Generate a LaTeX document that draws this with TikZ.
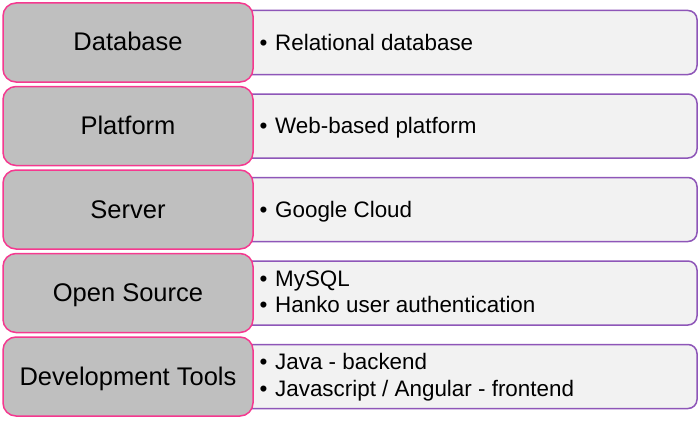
\documentclass[tikz,border=0pt]{standalone}
\usepackage{fontspec}
\setmainfont{Liberation Sans}
\definecolor{lfill}{HTML}{BFBFBF}
\definecolor{lline}{HTML}{F5388F}
\definecolor{rfill}{HTML}{F2F2F2}
\definecolor{rline}{HTML}{8E56B8}
\tikzset{
  catbox/.style={draw=lline, fill=lfill, line width=1.5pt, rounded corners=13pt,
    minimum width=250pt, minimum height=79pt, inner sep=0pt,
    font=\fontsize{25.5}{30}\selectfont, text height=22pt, text depth=5pt},
  infobox/.style={draw=rline, fill=rfill, line width=1.5pt, rounded corners=9pt,
    minimum width=457pt, minimum height=64pt, inner sep=0pt},
  itemtext/.style={anchor=base west, inner sep=0pt, font=\fontsize{22.4}{26}\selectfont}
}
\newcommand{\bul}[1]{\makebox[15.5pt][l]{•}#1}
\begin{document}
\begin{tikzpicture}[x=1pt,y=-1pt]
\useasboundingbox (0,0) rectangle (700,420);
% row centers: 42.5 + 83.5 i
\foreach \i/\lab in {0/Database,1/Platform,2/Server,3/Open Source,4/Development Tools}{
  \pgfmathsetmacro{\cy}{42.5+83.5*\i}
  \node[infobox] (info\i) at (468.5,\cy) {};
  \node[catbox] (cat\i) at (128,\cy) {\lab};
}
\node[itemtext] (t0) at (259.5,50) {\bul{Relational database}};
\node[itemtext] (t1) at (259.5,133.5) {\bul{Web-based platform}};
\node[itemtext] (t2) at (259.5,217) {\bul{Google Cloud}};
\node[itemtext] (t3a) at (259.5,286) {\bul{MySQL}};
\node[itemtext] (t3b) at (259.5,312.7) {\bul{Hanko user authentication}};
\node[itemtext] (t4a) at (259.5,369.5) {\bul{Java - backend}};
\node[itemtext] (t4b) at (259.5,396.2) {\bul{Javascript / Angular - frontend}};
\end{tikzpicture}
\end{document}
